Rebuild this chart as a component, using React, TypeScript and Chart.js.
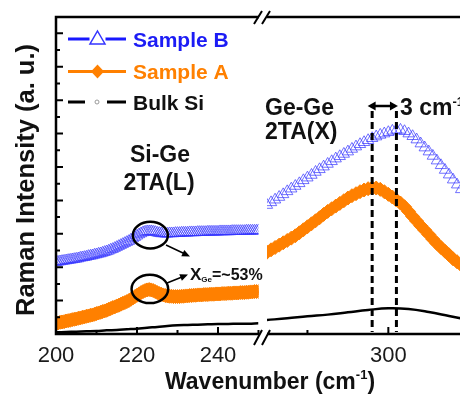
import React, { useEffect, useRef } from 'react';
import { Chart, registerables } from 'chart.js';

Chart.register(...registerables);

// ---------- data ----------
const STEP = 0.5; // cm^-1 spacing of the spectra
const LEFT_START = 200;
const LEFT_END = 250;
const RIGHT_START = 285;
const BULK_STEP = 2.5;

const sampleBLeft = [
  2.15, 2.16, 2.17, 2.18, 2.19, 2.2, 2.21, 2.22, 2.23, 2.24,
  2.25, 2.26, 2.28, 2.29, 2.3, 2.31, 2.33, 2.34, 2.35, 2.37,
  2.38, 2.4, 2.41, 2.43, 2.45, 2.47, 2.49, 2.52, 2.54, 2.57,
  2.6, 2.63, 2.66, 2.69, 2.72, 2.75, 2.78, 2.82, 2.86, 2.9,
  2.94, 2.98, 3.01, 3.04, 3.06, 3.07, 3.07, 3.07, 3.06, 3.05,
  3.03, 3.02, 3.01, 3.01, 3.0, 3.0, 3.01, 3.01, 3.01, 3.02,
  3.02, 3.02, 3.03, 3.03, 3.03, 3.03, 3.04, 3.04, 3.04, 3.04,
  3.05, 3.05, 3.05, 3.05, 3.05, 3.06, 3.06, 3.06, 3.06, 3.06,
  3.06, 3.07, 3.07, 3.07, 3.07, 3.07, 3.07, 3.08, 3.08, 3.08,
  3.08, 3.08, 3.08, 3.08, 3.09, 3.09, 3.09, 3.09, 3.09, 3.09,
  3.1,
];

const sampleALeft = [
  0.32, 0.33, 0.35, 0.36, 0.37, 0.39, 0.4, 0.41, 0.43, 0.44,
  0.45, 0.47, 0.48, 0.5, 0.51, 0.53, 0.54, 0.56, 0.57, 0.59,
  0.61, 0.63, 0.65, 0.67, 0.69, 0.71, 0.74, 0.76, 0.79, 0.81,
  0.84, 0.86, 0.89, 0.92, 0.94, 0.97, 1.0, 1.04, 1.08, 1.12,
  1.16, 1.2, 1.24, 1.27, 1.3, 1.32, 1.33, 1.32, 1.3, 1.27,
  1.24, 1.21, 1.19, 1.17, 1.15, 1.14, 1.13, 1.13, 1.12, 1.12,
  1.12, 1.12, 1.13, 1.13, 1.14, 1.14, 1.15, 1.15, 1.16, 1.16,
  1.17, 1.17, 1.17, 1.18, 1.18, 1.18, 1.19, 1.19, 1.19, 1.2,
  1.2, 1.2, 1.21, 1.21, 1.21, 1.22, 1.22, 1.22, 1.23, 1.23,
  1.23, 1.24, 1.24, 1.24, 1.25, 1.25, 1.26, 1.26, 1.27, 1.27,
  1.27,
];

const sampleBRight = [
  3.86, 3.94, 4.02, 4.1, 4.18, 4.27, 4.35, 4.43, 4.51, 4.6,
  4.68, 4.76, 4.85, 4.93, 5.01, 5.09, 5.17, 5.25, 5.32, 5.39,
  5.46, 5.54, 5.61, 5.68, 5.74, 5.8, 5.86, 5.91, 5.96, 6.0,
  6.04, 6.08, 6.11, 6.11, 6.07, 6.0, 5.92, 5.82, 5.7, 5.58,
  5.46, 5.33, 5.19, 5.05, 4.91, 4.77, 4.62, 4.47, 4.33,
];

const sampleARight = [
  2.45, 2.52, 2.59, 2.66, 2.73, 2.8, 2.87, 2.94, 3.03, 3.12,
  3.21, 3.3, 3.39, 3.48, 3.58, 3.67, 3.75, 3.83, 3.91, 3.99,
  4.07, 4.14, 4.2, 4.26, 4.31, 4.35, 4.37, 4.37, 4.33, 4.26,
  4.18, 4.1, 4.01, 3.92, 3.81, 3.67, 3.52, 3.38, 3.24, 3.11,
  2.98, 2.84, 2.71, 2.59, 2.48, 2.37, 2.25, 2.16, 2.07,
];

const bulkLeft = [
  0.05, 0.06, 0.07, 0.08, 0.09, 0.11, 0.12, 0.14, 0.16, 0.19, 0.21,
  0.24, 0.26, 0.27, 0.28, 0.29, 0.3, 0.3, 0.31, 0.31, 0.32,
];
const bulkRight = [0.42, 0.47, 0.53, 0.58, 0.65, 0.72, 0.77, 0.75, 0.66, 0.54, 0.42];

const leftTickLabels = [200, 220, 240];
const rightTickLabels = [300];
const peakLines = [298, 301]; // Ge-Ge 2TA(X) peaks, 3 cm^-1 apart
const ellipseCentre = { x: 223.3, blue: 2.96, orange: 1.35 };

const seriesNames = ['Sample B', 'Sample A', 'Bulk Si'];

// ---------- styles ----------
const FONT = '"Liberation Sans", Arial, Helvetica, sans-serif';
const BLUE = '#3434ff';
const BLUE_LINE = '#1818ff';
const BLUE_TEXT = '#1c1cf5';
const ORANGE = '#ff8000';
const BLACK = '#000000';

const toPoints = (vals: number[], start: number, step: number) =>
  vals.map((y, i) => ({ x: Math.round((start + i * step) * 100) / 100, y }));

function arrowHead(ctx: CanvasRenderingContext2D, x1: number, y1: number, x2: number, y2: number, len: number, half: number) {
  const a = Math.atan2(y2 - y1, x2 - x1);
  ctx.beginPath();
  ctx.moveTo(x2, y2);
  ctx.lineTo(x2 - len * Math.cos(a) + half * Math.sin(a), y2 - len * Math.sin(a) - half * Math.cos(a));
  ctx.lineTo(x2 - len * Math.cos(a) - half * Math.sin(a), y2 - len * Math.sin(a) + half * Math.cos(a));
  ctx.closePath();
  ctx.fill();
}

type Part = { t: string; font: string; dy?: number };
function drawRich(ctx: CanvasRenderingContext2D, parts: Part[], x: number, y: number, align: 'left' | 'center') {
  ctx.textAlign = 'left';
  ctx.textBaseline = 'alphabetic';
  const widths = parts.map((p) => {
    ctx.font = p.font;
    return ctx.measureText(p.t).width;
  });
  const total = widths.reduce((a, b) => a + b, 0);
  let cx = align === 'center' ? x - total / 2 : x;
  parts.forEach((p, i) => {
    ctx.font = p.font;
    ctx.fillText(p.t, cx, y + (p.dy || 0));
    cx += widths[i];
  });
}

const overlayPlugin = {
  id: 'overlay',
  beforeDatasetDraw(chart: any, args: any) {
    const { ctx, chartArea } = chart;
    const xs = args.meta.xScale;
    const left = xs.left;
    const right = xs.id === 'xL' ? xs.getPixelForValue(LEFT_END) : xs.right;
    ctx.save();
    ctx.beginPath();
    ctx.rect(left, chartArea.top, right - left, chartArea.bottom - chartArea.top);
    ctx.clip();
  },
  afterDatasetDraw(chart: any) {
    chart.ctx.restore();
  },
  afterDatasetsDraw(chart: any) {
    const { ctx, chartArea } = chart;
    const xL = chart.scales.xL;
    const xR = chart.scales.xR;
    const y = chart.scales.y;
    const { top, bottom, left, right } = chartArea;
    const breakL = xL.getPixelForValue(LEFT_END) + 0.5;
    const breakR = xR.left;

    ctx.save();
    ctx.strokeStyle = BLACK;
    ctx.fillStyle = BLACK;
    ctx.lineCap = 'butt';

    // frame
    ctx.lineWidth = 2.5;
    ctx.beginPath();
    ctx.moveTo(left, top - 1.25);
    ctx.lineTo(left, bottom + 1.25);
    ctx.moveTo(left, top);
    ctx.lineTo(breakL, top);
    ctx.moveTo(breakR, top);
    ctx.lineTo(right, top);
    ctx.moveTo(left, bottom);
    ctx.lineTo(breakL, bottom);
    ctx.moveTo(breakR, bottom);
    ctx.lineTo(right, bottom);
    ctx.stroke();

    // break marks
    ctx.lineWidth = 2;
    ctx.beginPath();
    [breakL - 1, breakR - 1].forEach((bx) => {
      ctx.moveTo(bx - 4, top + 7);
      ctx.lineTo(bx + 4, top - 6);
      ctx.moveTo(bx - 4, bottom + 11);
      ctx.lineTo(bx + 4, bottom - 4);
    });
    ctx.stroke();

    // inward x ticks
    ctx.lineWidth = 2;
    ctx.beginPath();
    [xL, xR].forEach((s: any) => {
      s.ticks.forEach((t: any) => {
        const px = s.getPixelForValue(t.value);
        if (s.id === 'xL' && t.value > LEFT_END) return;
        const major = (s.id === 'xL' ? leftTickLabels : rightTickLabels).includes(t.value);
        if (px <= left + 1) return;
        ctx.moveTo(px, bottom);
        ctx.lineTo(px, bottom - (major ? 7 : 4));
      });
    });
    // inward y ticks
    for (let v = 0.5; v <= 9.01; v += 0.5) {
      const py = y.getPixelForValue(v);
      const major = Math.abs(v - Math.round(v)) < 0.01;
      ctx.moveTo(left, py);
      ctx.lineTo(left + (major ? 7 : 4), py);
    }
    ctx.stroke();

    // dashed peak lines
    ctx.lineWidth = 3;
    ctx.setLineDash([7, 4]);
    ctx.beginPath();
    peakLines.forEach((v) => {
      const px = xR.getPixelForValue(v);
      ctx.moveTo(px, 111);
      ctx.lineTo(px, bottom - 2);
    });
    ctx.stroke();
    ctx.setLineDash([]);

    // double arrow
    const a1 = xR.getPixelForValue(peakLines[0]) - 4.5;
    const a2 = xR.getPixelForValue(peakLines[1]) + 1.5;
    const ay = 106;
    ctx.lineWidth = 2.5;
    ctx.beginPath();
    ctx.moveTo(a1 + 5, ay);
    ctx.lineTo(a2 - 5, ay);
    ctx.stroke();
    arrowHead(ctx, a2, ay, a1, ay, 8, 4.5);
    arrowHead(ctx, a1, ay, a2, ay, 8, 4.5);

    // ellipses
    ctx.lineWidth = 2.5;
    const ex = xL.getPixelForValue(ellipseCentre.x);
    ctx.beginPath();
    ctx.ellipse(ex, y.getPixelForValue(ellipseCentre.blue), 17.5, 13.3, 0, 0, Math.PI * 2);
    ctx.stroke();
    ctx.beginPath();
    ctx.ellipse(ex - 0.5, y.getPixelForValue(ellipseCentre.orange), 18.3, 14.2, 0, 0, Math.PI * 2);
    ctx.stroke();

    // small arrows to the X_Ge label
    ctx.lineWidth = 1.5;
    ctx.beginPath();
    ctx.moveTo(166, 245);
    ctx.lineTo(184, 253.5);
    ctx.moveTo(167, 283);
    ctx.lineTo(182, 277);
    ctx.stroke();
    arrowHead(ctx, 166, 245, 190, 256.5, 8, 3.5);
    arrowHead(ctx, 167, 283, 188, 274.5, 8, 3.5);

    // annotation texts
    ctx.fillStyle = '#111';
    ctx.textAlign = 'center';
    ctx.textBaseline = 'alphabetic';
    ctx.font = `bold 23px ${FONT}`;
    ctx.fillText('Si-Ge', 160, 162);
    ctx.fillText('2TA(L)', 159, 190);
    ctx.textAlign = 'left';
    ctx.fillText('Ge-Ge', 265, 115);
    ctx.fillText('2TA(X)', 265, 138.5);
    drawRich(ctx, [
      { t: '3 cm', font: `bold 23px ${FONT}` },
      { t: '-1', font: `bold 13px ${FONT}`, dy: -9 },
    ], 400, 114.5, 'left');
    drawRich(ctx, [
      { t: 'X', font: `bold 17px ${FONT}` },
      { t: 'Ge', font: `bold 8px ${FONT}`, dy: 2 },
      { t: '=~53%', font: `bold 16px ${FONT}` },
    ], 190, 280, 'left');

    // axis titles
    ctx.fillStyle = '#111';
    drawRich(ctx, [
      { t: 'Wavenumber (cm', font: `bold 23px ${FONT}` },
      { t: '-1', font: `bold 13px ${FONT}`, dy: -10 },
      { t: ')', font: `bold 23px ${FONT}` },
    ], 270, 389, 'center');
    ctx.save();
    ctx.translate(33.5, 180);
    ctx.rotate(-Math.PI / 2);
    ctx.textAlign = 'center';
    ctx.font = `bold 25.5px ${FONT}`;
    ctx.fillText('Raman Intensity (a. u.)', 0, 0);
    ctx.restore();

    // legend
    const lx1 = 68;
    const lx2 = 126;
    const mx = 97.5;
    const rows = [39, 71.5, 102];
    ctx.lineWidth = 3;
    // Sample B
    ctx.strokeStyle = BLUE_LINE;
    ctx.beginPath();
    ctx.moveTo(lx1, rows[0]);
    ctx.lineTo(mx - 8, rows[0]);
    ctx.moveTo(mx + 8, rows[0]);
    ctx.lineTo(lx2, rows[0]);
    ctx.stroke();
    ctx.lineWidth = 1.5;
    ctx.strokeStyle = BLUE;
    ctx.beginPath();
    ctx.moveTo(mx, rows[0] - 8);
    ctx.lineTo(mx + 7.5, rows[0] + 5);
    ctx.lineTo(mx - 7.5, rows[0] + 5);
    ctx.closePath();
    ctx.stroke();
    // Sample A
    ctx.lineWidth = 3;
    ctx.strokeStyle = ORANGE;
    ctx.fillStyle = ORANGE;
    ctx.beginPath();
    ctx.moveTo(lx1, rows[1]);
    ctx.lineTo(lx2, rows[1]);
    ctx.stroke();
    ctx.beginPath();
    ctx.moveTo(mx, rows[1] - 7);
    ctx.lineTo(mx + 6.5, rows[1]);
    ctx.lineTo(mx, rows[1] + 7);
    ctx.lineTo(mx - 6.5, rows[1]);
    ctx.closePath();
    ctx.fill();
    // Bulk Si
    ctx.strokeStyle = BLACK;
    ctx.beginPath();
    ctx.moveTo(lx1, rows[2]);
    ctx.lineTo(85, rows[2]);
    ctx.moveTo(107, rows[2]);
    ctx.lineTo(lx2, rows[2]);
    ctx.stroke();
    ctx.lineWidth = 1;
    ctx.strokeStyle = '#999';
    ctx.beginPath();
    ctx.arc(mx - 0.5, rows[2], 2, 0, Math.PI * 2);
    ctx.stroke();

    ctx.textAlign = 'left';
    ctx.font = `bold 21px ${FONT}`;
    ctx.fillStyle = BLUE_TEXT;
    ctx.fillText(seriesNames[0], 133, 47);
    ctx.fillStyle = ORANGE;
    ctx.fillText(seriesNames[1], 133, 78.5);
    ctx.fillStyle = '#111';
    ctx.fillText(seriesNames[2], 133, 110);

    ctx.restore();
  },
};

const fixX = (s: any) => {
  s.height = 60;
  s.paddingLeft = 0;
  s.paddingRight = 0;
};

export default function App() {
  const ref = useRef<HTMLCanvasElement | null>(null);

  useEffect(() => {
    if (!ref.current) return;
    const tri = {
      showLine: false,
      pointStyle: 'triangle',
      pointRadius: 6.5,
      pointBorderWidth: 0.7,
      pointBorderColor: BLUE,
      pointBackgroundColor: 'rgba(0,0,0,0)',
      borderColor: BLUE,
      clip: false,
    };
    const dia = {
      showLine: false,
      pointStyle: 'rectRot',
      pointRadius: 7,
      pointBorderWidth: 1,
      pointBorderColor: ORANGE,
      pointBackgroundColor: ORANGE,
      borderColor: ORANGE,
      clip: false,
    };
    const bulk = {
      showLine: true,
      borderColor: BLACK,
      borderWidth: 2.5,
      pointRadius: 0,
      tension: 0.4,
      clip: false,
    };
    const xTicks = (labels: number[]) => ({
      stepSize: 10,
      includeBounds: false,
      autoSkip: false,
      maxRotation: 0,
      padding: 9,
      color: '#1a1a1a',
      font: { family: FONT, size: 22 },
      callback: (v: any) => (labels.includes(Number(v)) ? String(v) : ''),
    });
    const chart = new Chart(ref.current, {
      type: 'line',
      data: {
        datasets: [
          { label: seriesNames[0], data: toPoints(sampleBLeft, LEFT_START, STEP), xAxisID: 'xL', yAxisID: 'y', ...tri },
          { label: seriesNames[0], data: toPoints(sampleBRight, RIGHT_START, STEP), xAxisID: 'xR', yAxisID: 'y', ...tri },
          { label: seriesNames[1], data: toPoints(sampleALeft, LEFT_START, STEP), xAxisID: 'xL', yAxisID: 'y', ...dia },
          { label: seriesNames[1], data: toPoints(sampleARight, RIGHT_START, STEP), xAxisID: 'xR', yAxisID: 'y', ...dia },
          { label: seriesNames[2], data: toPoints(bulkLeft, LEFT_START, BULK_STEP), xAxisID: 'xL', yAxisID: 'y', ...bulk },
          { label: seriesNames[2], data: toPoints(bulkRight, RIGHT_START, BULK_STEP), xAxisID: 'xR', yAxisID: 'y', ...bulk },
        ] as any,
      },
      options: {
        animation: false,
        responsive: false,
        devicePixelRatio: 1,
        events: [],
        layout: { autoPadding: false, padding: { left: 0, top: 17, right: 0, bottom: 0 } },
        plugins: { legend: { display: false }, tooltip: { enabled: false } },
        scales: {
          xL: {
            type: 'linear',
            position: 'bottom',
            stack: 'wn',
            stackWeight: 211,
            min: 200,
            max: 252.1,
            grid: { display: false, drawTicks: false },
            border: { display: false },
            ticks: xTicks(leftTickLabels),
            afterFit: fixX,
          },
          xR: {
            type: 'linear',
            position: 'bottom',
            stack: 'wn',
            stackWeight: 193,
            min: 285,
            max: 308.86,
            grid: { display: false, drawTicks: false },
            border: { display: false },
            ticks: xTicks(rightTickLabels),
            afterFit: fixX,
          },
          y: {
            type: 'linear',
            position: 'left',
            min: 0,
            max: 9.49,
            grid: { display: false, drawTicks: false },
            border: { display: false },
            ticks: { display: false },
            afterFit: (s: any) => {
              s.width = 56;
              s.paddingTop = 0;
              s.paddingBottom = 0;
            },
          },
        } as any,
      },
      plugins: [overlayPlugin as any],
    });
    return () => chart.destroy();
  }, []);

  return (
    <div style={{ position: 'absolute', left: 0, top: 0, width: 460, height: 394, background: '#fff' }}>
      <canvas ref={ref} width={460} height={394} style={{ display: 'block', width: 460, height: 394 }} />
    </div>
  );
}
